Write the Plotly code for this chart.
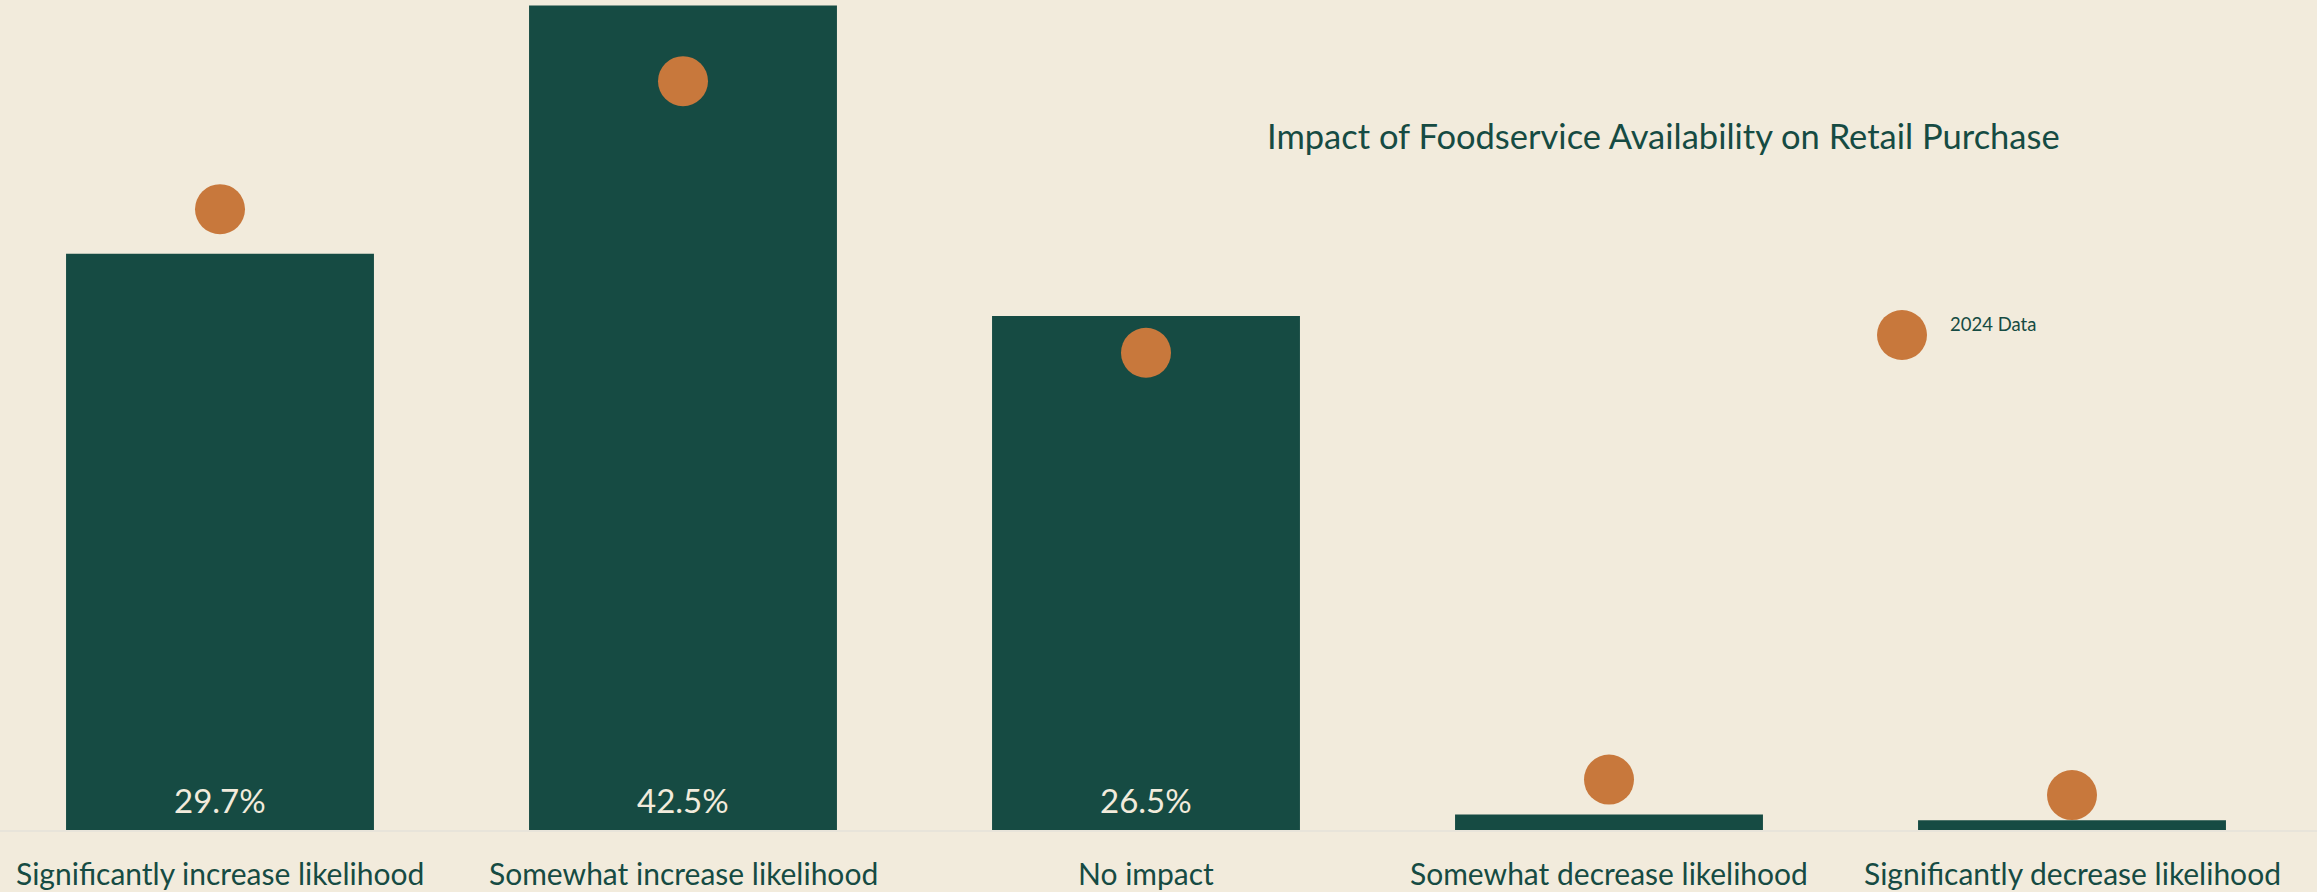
import plotly.graph_objects as go

# Survey responses: share of respondents by impact category
categories = [
    "Significantly increase likelihood",
    "Somewhat increase likelihood",
    "No impact",
    "Somewhat decrease likelihood",
    "Significantly decrease likelihood",
]
current_share = [29.7, 42.5, 26.5, 0.8, 0.5]
share_2024 = [32.0, 38.6, 24.6, 2.6, 1.8]

BG = "#F2EBDC"
BAR = "#164B43"
DOT = "#C8783C"
TEXT = "#164B43"
LABEL_TEXT = "#F2EBDC"
FONT = "Lato"

W, H = 2317, 892
PLOT_BOTTOM = 830          # pixel row of the baseline
PX_PER_PCT = 19.4
SLOT = 463                 # pixel width of one category slot
FIRST_CENTER = 220

x_pos = list(range(len(categories)))

fig = go.Figure()

fig.add_trace(go.Bar(
    x=x_pos,
    y=current_share,
    width=0.665,
    marker=dict(color=BAR, line=dict(width=0)),
    hoverinfo="skip",
    showlegend=False,
))

fig.add_trace(go.Scatter(
    x=x_pos,
    y=share_2024,
    mode="markers",
    marker=dict(size=50, color=DOT, line=dict(width=0)),
    name="2024 Data",
    showlegend=False,
    cliponaxis=False,
))

# Value labels sitting at the foot of the larger bars
for i, v in enumerate(current_share):
    if v >= 5:
        fig.add_annotation(
            x=i, y=0, xref="x", yref="y",
            text=f"{v:.1f}%", showarrow=False,
            yshift=30, yanchor="middle",
            font=dict(family=FONT, size=33, color=LABEL_TEXT),
        )

# Category labels beneath the baseline
for i, cat in enumerate(categories):
    fig.add_annotation(
        x=i, y=0, xref="x", yref="y",
        text=cat, showarrow=False,
        yshift=-43, yanchor="middle",
        font=dict(family=FONT, size=30, color=TEXT),
    )

# Chart title
fig.add_annotation(
    x=1663 / W, y=1 - 136 / PLOT_BOTTOM, xref="paper", yref="paper",
    text="Impact of Foodservice Availability on Retail Purchase",
    showarrow=False, xanchor="center", yanchor="middle",
    font=dict(family=FONT, size=34.5, color=TEXT),
)

# Legend: circle swatch and label
fig.add_shape(
    type="circle", xref="paper", yref="paper",
    xsizemode="pixel", ysizemode="pixel",
    xanchor=1902 / W, yanchor=1 - 335 / PLOT_BOTTOM,
    x0=-25, x1=25, y0=-25, y1=25,
    fillcolor=DOT, line=dict(width=0),
)
fig.add_annotation(
    x=1948 / W, y=1 - 324 / PLOT_BOTTOM, xref="paper", yref="paper",
    text="2024 Data", showarrow=False, xanchor="left", yanchor="middle",
    font=dict(family=FONT, size=18.5, color=TEXT),
)

fig.update_layout(
    width=W,
    height=H,
    paper_bgcolor=BG,
    plot_bgcolor=BG,
    margin=dict(l=0, r=0, t=0, b=H - PLOT_BOTTOM),
    xaxis=dict(
        range=[-FIRST_CENTER / SLOT, (W - FIRST_CENTER) / SLOT],
        showticklabels=False,
        showgrid=False,
        zeroline=False,
        showline=True,
        linecolor="#E8E4DA",
        linewidth=2,
        ticks="",
    ),
    yaxis=dict(
        range=[0, PLOT_BOTTOM / PX_PER_PCT],
        showticklabels=False,
        showgrid=False,
        zeroline=False,
        showline=False,
        ticks="",
    ),
)

fig.write_html("out.html")
